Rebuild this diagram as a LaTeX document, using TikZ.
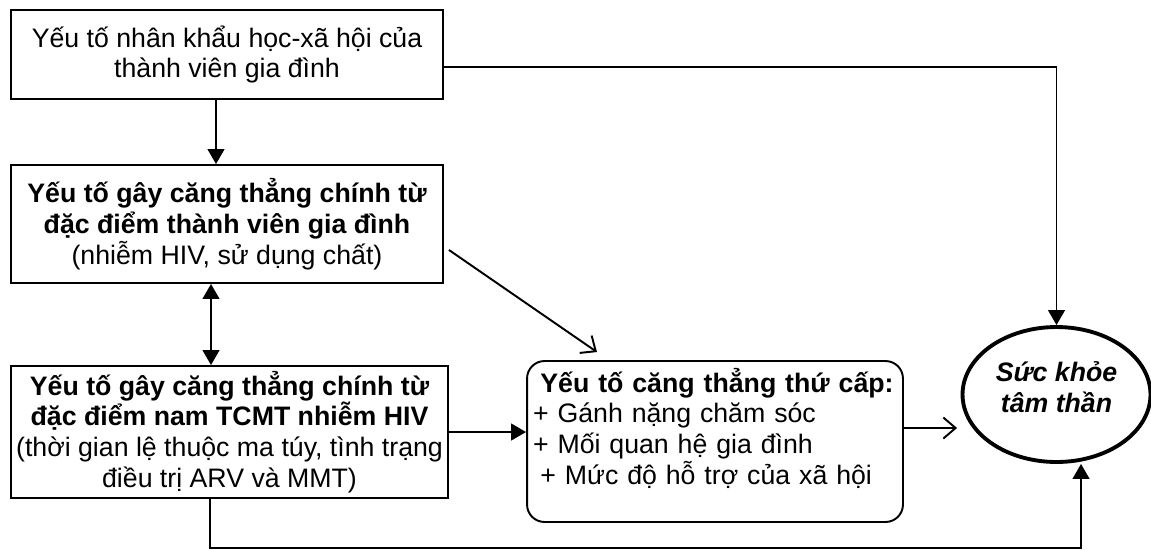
\documentclass[tikz,border=0pt]{standalone}
\usepackage{fontspec}
\setmainfont{Liberation Sans}
\usetikzlibrary{positioning,shapes.geometric,arrows.meta,calc}
\tikzset{
  box/.style={draw,line width=1.1pt,align=center,inner sep=0pt,font=\fontsize{15.2}{17.5}\selectfont},
  fwd/.style={line width=1.1pt,-{Triangle[length=8.5pt,width=9.5pt]}},
  twoway/.style={line width=1.1pt,{Triangle[length=8.5pt,width=9.5pt]}-{Triangle[length=8.5pt,width=9.5pt]}},
  barb/.style={line width=1.1pt,-{Straight Barb[length=7pt,width=12pt]}}
}
\begin{document}
\begin{tikzpicture}[x=0.02cm,y=-0.02cm]
  \useasboundingbox (0,0) rectangle (1151,549);
  \node[box,minimum width=8.64cm,minimum height=1.78cm] (demo) at (227,54.5)
    {Yếu tố nhân khẩu học-xã hội của\\thành viên gia đình};
  \node[box,minimum width=8.64cm,minimum height=2.36cm] (member) at (227,224)
    {\textbf{Yếu tố gây căng thẳng chính từ}\\\textbf{đặc điểm thành viên gia đình}\\(nhiễm HIV, sử dụng chất)};
  \node[box,minimum width=8.74cm,minimum height=2.64cm] (male) at (229.5,432)
    {\textbf{Yếu tố gây căng thẳng chính từ}\\\textbf{đặc điểm nam TCMT nhiễm HIV}\\(thời gian lệ thuộc ma túy, tình trạng\\điều trị ARV và MMT)};
  \node[box,rounded corners=0.35cm,minimum width=7.52cm,minimum height=3.22cm,
        text width=7.28cm,align=left,inner xsep=0.12cm] (second) at (715,441.5)
    {\hspace*{4.2pt}\textbf{Yếu tố căng thẳng thứ cấp:}\\+ Gánh nặng chăm sóc\\+ Mối quan hệ gia đình\\\hspace*{4.2pt}+ Mức độ hỗ trợ của xã hội\\\mbox{}};
  \node[ellipse,draw,line width=2.2pt,minimum width=3.76cm,minimum height=2.7cm,inner sep=0pt,
        align=center,font=\bfseries\itshape\fontsize{15.2}{17.5}\selectfont] (health) at (1056.5,394.5)
    {Sức khỏe\\tâm thần\\[-9pt]\mbox{}};
  \coordinate (out) at ($(second.east)+(0,-13.5)$);

  \draw[fwd] ($(demo.south)+(-11,0)$) -- ($(member.north)+(-11,0)$);
  \draw[twoway] ($(member.south)+(-16,0)$) -- ($(male.north)+(-18.5,0)$);
  \draw[fwd] (male.east) -- (male.east -| second.west);
  \draw[barb] ($(member.south east)+(5,-34)$) -- ($(second.north)+(-118,-8)$);
  \draw[barb,shorten >=2pt] (out) -- (out -| health.west);
  \draw[fwd] ($(demo.east)+(0,12.5)$) -| (health.north);
  \draw[fwd] ($(male.south)+(-19.5,0)$) -- ++(0,49) -| ($(health.south)+(24.5,0)$);
\end{tikzpicture}
\end{document}
